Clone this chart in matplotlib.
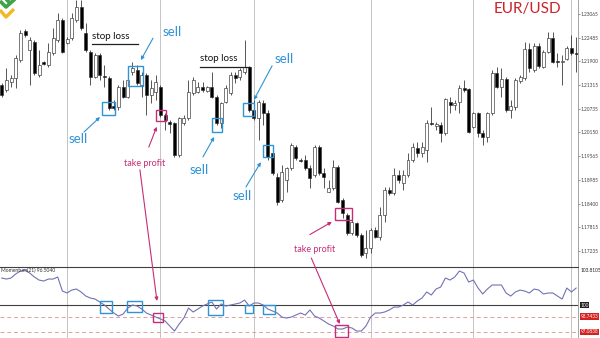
import matplotlib
matplotlib.use('Agg')
import matplotlib.pyplot as plt
from matplotlib.patches import Rectangle, ConnectionPatch
from matplotlib.lines import Line2D
import matplotlib.transforms as mtransforms
import numpy as np

# ---------------- data (EUR/USD candles) ----------------
opens = [1.2132, 1.2120, 1.2139, 1.2149, 1.2193, 1.2265, 1.2218, 1.2238, 1.2156, 1.2188,
         1.2181, 1.2211, 1.2242, 1.2292, 1.2235, 1.2247, 1.2292, 1.2324, 1.2260, 1.2213,
         1.2152, 1.2206, 1.2154, 1.2149, 1.2080, 1.2078, 1.2127, 1.2102, 1.2164, 1.2169,
         1.2132, 1.2156, 1.2107, 1.2115, 1.2127, 1.2058, 1.2041, 1.2038, 1.1960, 1.2038,
         1.2051, 1.2112, 1.2115, 1.2127, 1.2117, 1.2127, 1.2102, 1.2038, 1.2090, 1.2112,
         1.2156, 1.2152, 1.2164, 1.2176, 1.2070, 1.2051, 1.2088, 1.2063, 1.1965, 1.1905,
         1.1849, 1.1898, 1.1928, 1.1979, 1.1947, 1.1947, 1.1928, 1.1910, 1.1979, 1.1915,
         1.1868, 1.1878, 1.1930, 1.1849, 1.1812, 1.1768, 1.1792, 1.1763, 1.1719, 1.1731,
         1.1775, 1.1758, 1.1812, 1.1873, 1.1866, 1.1910, 1.1891, 1.1910, 1.1947, 1.1977,
         1.1965, 1.1972, 1.2038, 1.2031, 1.2033, 1.2014, 1.2090, 1.2083, 1.2090, 1.2124,
         1.2122, 1.2029, 1.2063, 1.2014, 1.2004, 1.2063, 1.2161, 1.2127, 1.2147, 1.2070,
         1.2078, 1.2142, 1.2149, 1.2220, 1.2169, 1.2228, 1.2176, 1.2213, 1.2247, 1.2191,
         1.2188, 1.2196, 1.2223, 1.2211]
highs = [1.2137, 1.2174, 1.2156, 1.2206, 1.2267, 1.2270, 1.2250, 1.2242, 1.2218, 1.2191,
         1.2235, 1.2272, 1.2309, 1.2297, 1.2250, 1.2309, 1.2341, 1.2341, 1.2284, 1.2218,
         1.2211, 1.2211, 1.2181, 1.2154, 1.2095, 1.2132, 1.2144, 1.2156, 1.2188, 1.2181,
         1.2164, 1.2161, 1.2144, 1.2156, 1.2132, 1.2063, 1.2046, 1.2041, 1.2053, 1.2058,
         1.2144, 1.2152, 1.2139, 1.2139, 1.2129, 1.2164, 1.2107, 1.2090, 1.2132, 1.2164,
         1.2164, 1.2174, 1.2242, 1.2179, 1.2095, 1.2095, 1.2095, 1.2070, 1.1972, 1.1915,
         1.1935, 1.1930, 1.1989, 1.1984, 1.1952, 1.1960, 1.1935, 1.1984, 1.1984, 1.1928,
         1.1898, 1.1947, 1.1935, 1.1854, 1.1817, 1.1805, 1.1795, 1.1768, 1.1775, 1.1780,
         1.1782, 1.1832, 1.1881, 1.1881, 1.1928, 1.1923, 1.1923, 1.1965, 1.1989, 1.1992,
         1.1992, 1.2046, 1.2078, 1.2041, 1.2041, 1.2100, 1.2102, 1.2095, 1.2132, 1.2144,
         1.2124, 1.2065, 1.2065, 1.2021, 1.2065, 1.2169, 1.2176, 1.2174, 1.2152, 1.2095,
         1.2149, 1.2156, 1.2238, 1.2235, 1.2235, 1.2235, 1.2218, 1.2262, 1.2262, 1.2211,
         1.2206, 1.2228, 1.2255, 1.2250]
lows = [1.2102, 1.2115, 1.2127, 1.2124, 1.2188, 1.2250, 1.2132, 1.2156, 1.2152, 1.2181,
        1.2176, 1.2206, 1.2238, 1.2211, 1.2233, 1.2242, 1.2287, 1.2267, 1.2213, 1.2132,
        1.2149, 1.2144, 1.2127, 1.2070, 1.2070, 1.2070, 1.2100, 1.2100, 1.2156, 1.2132,
        1.2102, 1.2058, 1.2088, 1.2095, 1.2053, 1.2021, 1.2014, 1.1955, 1.1955, 1.2033,
        1.2046, 1.2107, 1.2112, 1.2115, 1.2115, 1.2100, 1.2033, 1.2026, 1.2088, 1.2107,
        1.2137, 1.2144, 1.2159, 1.2065, 1.2046, 1.1997, 1.2033, 1.1947, 1.1910, 1.1837,
        1.1844, 1.1868, 1.1923, 1.1947, 1.1942, 1.1923, 1.1878, 1.1905, 1.1910, 1.1878,
        1.1868, 1.1873, 1.1841, 1.1805, 1.1763, 1.1763, 1.1758, 1.1709, 1.1706, 1.1719,
        1.1755, 1.1751, 1.1795, 1.1861, 1.1861, 1.1891, 1.1873, 1.1905, 1.1942, 1.1955,
        1.1955, 1.1942, 1.2033, 1.2021, 1.1992, 1.2009, 1.2063, 1.2070, 1.2063, 1.2115,
        1.2014, 1.2026, 1.2004, 1.1984, 1.1992, 1.2058, 1.2124, 1.2102, 1.2065, 1.2051,
        1.2070, 1.2137, 1.2144, 1.2164, 1.2164, 1.2174, 1.2174, 1.2211, 1.2186, 1.2176,
        1.2132, 1.2193, 1.2206, 1.2164]
closes = [1.2107, 1.2144, 1.2149, 1.2198, 1.2260, 1.2255, 1.2242, 1.2161, 1.2181, 1.2183,
          1.2213, 1.2247, 1.2292, 1.2213, 1.2245, 1.2297, 1.2324, 1.2272, 1.2218, 1.2152,
          1.2206, 1.2156, 1.2152, 1.2075, 1.2075, 1.2127, 1.2102, 1.2144, 1.2174, 1.2137,
          1.2156, 1.2107, 1.2124, 1.2139, 1.2058, 1.2046, 1.2036, 1.1960, 1.2051, 1.2051,
          1.2115, 1.2144, 1.2127, 1.2120, 1.2127, 1.2102, 1.2038, 1.2088, 1.2124, 1.2156,
          1.2149, 1.2169, 1.2176, 1.2070, 1.2051, 1.2090, 1.2063, 1.1955, 1.1915, 1.1844,
          1.1918, 1.1928, 1.1984, 1.1952, 1.1945, 1.1928, 1.1903, 1.1979, 1.1915, 1.1905,
          1.1878, 1.1930, 1.1844, 1.1817, 1.1768, 1.1795, 1.1763, 1.1714, 1.1731, 1.1775,
          1.1758, 1.1812, 1.1873, 1.1866, 1.1910, 1.1898, 1.1910, 1.1947, 1.1979, 1.1965,
          1.1979, 1.2038, 1.2036, 1.2036, 1.2014, 1.2097, 1.2083, 1.2088, 1.2124, 1.2120,
          1.2016, 1.2063, 1.2014, 1.2004, 1.2063, 1.2161, 1.2127, 1.2147, 1.2070, 1.2080,
          1.2144, 1.2152, 1.2220, 1.2174, 1.2228, 1.2179, 1.2213, 1.2247, 1.2188, 1.2188,
          1.2191, 1.2223, 1.2211, 1.2208]
momentum = [102.94, 102.83, 102.94, 103.38, 103.70, 103.81, 103.48, 103.05, 102.72, 102.61,
            102.83, 102.83, 103.05, 101.52, 101.31, 101.63, 101.74, 101.42, 100.98, 100.76,
            100.65, 100.33, 100.00, 99.56, 99.13, 98.80, 99.02, 99.67, 100.00, 99.89,
            99.56, 99.13, 98.91, 98.69, 98.48, 98.26, 97.71, 97.17, 97.93, 98.58,
            99.67, 99.24, 99.56, 99.89, 100.11, 100.33, 99.56, 100.11, 99.89, 100.00,
            100.11, 100.22, 100.54, 99.89, 100.22, 100.22, 100.00, 99.56, 99.35, 99.13,
            98.69, 98.58, 98.69, 98.91, 99.13, 98.91, 99.46, 98.80, 98.58, 98.26,
            97.93, 97.71, 97.39, 97.39, 97.60, 97.50, 97.17, 97.17, 97.71, 98.69,
            99.13, 99.13, 99.24, 99.46, 99.78, 99.78, 100.00, 100.33, 100.00, 100.44,
            100.76, 101.42, 101.09, 101.74, 101.96, 102.94, 102.72, 103.05, 103.70, 103.48,
            102.50, 102.72, 101.85, 101.20, 101.74, 102.18, 102.18, 102.18, 101.31, 100.98,
            101.42, 101.63, 101.52, 101.31, 101.74, 101.63, 101.20, 101.31, 101.31, 100.98,
            100.65, 101.85, 101.42, 101.85]
price_ticks = [1.23065, 1.22485, 1.21900, 1.21315, 1.20735, 1.20150,
               1.19565, 1.18985, 1.18400, 1.17815, 1.17235]
mom_top_label = 103.8105
mom_zero = 100.0
mom_levels = [98.7433, 97.0838]
session_breaks = [14, 34, 54, 79, 101, 122]

# ---------------- style ----------------
BLUE = '#2f93d6'
PINK = '#c82c78'
RED = '#cc2229'
GRID = '#c4c4c4'
FONT = ['Lato', 'DejaVu Sans']
TICKFONT = ['Lato', 'DejaVu Sans']
TFS = 3.4

W, H = 600, 338
fig = plt.figure(figsize=(W / 100, H / 100), dpi=100)
fig.patch.set_facecolor('white')
ax = fig.add_axes([0, 71 / H, 578 / W, 267 / H])
ax2 = fig.add_axes([0, 0, 578 / W, 71 / H])

n = len(opens)
idx = np.arange(n)
o = np.array(opens)
c = np.array(closes)
up = c >= o
xlim = (-0.36, 123.4)

# ---------------- price panel ----------------
for b in session_breaks:
    ax.axvline(b, color=GRID, lw=0.7, zorder=0)
    ax2.axvline(b, color=GRID, lw=0.7, zorder=0)

ax.vlines(idx, lows, highs, color='#3a3a3a', lw=0.6, zorder=2)
body_lo = np.minimum(o, c)
body_h = np.maximum(np.abs(c - o), 0.00003)
ax.bar(idx, body_h, bottom=body_lo, width=0.64,
       color=np.where(up, 'white', 'black'), edgecolor='#303030',
       linewidth=0.45, zorder=3)

ax.set_xlim(*xlim)
ax.set_ylim(1.16841, 1.23409)
ax.yaxis.tick_right()
ax.set_yticks(price_ticks)
ax.set_yticklabels([f'{t:.5f}' for t in price_ticks], fontsize=TFS,
                   family=TICKFONT, color='#202020')
ax.tick_params(axis='y', length=1.2, width=0.4, pad=0.6, colors='#404040')
ax.set_xticks([])
for s in ['top', 'left', 'bottom']:
    ax.spines[s].set_visible(False)
ax.spines['right'].set_color('#808080')
ax.spines['right'].set_linewidth(0.5)

def box(a, x0, x1, y0, y1, col, lw=1.0):
    a.add_patch(Rectangle((x0, y0), x1 - x0, y1 - y0, fill=False,
                          edgecolor=col, lw=lw, zorder=5))

def arrow(a, tail, head, col):
    a.annotate('', xy=head, xytext=tail,
               arrowprops=dict(arrowstyle='-|>', color=col, lw=0.8,
                               mutation_scale=5, shrinkA=0, shrinkB=0),
               zorder=6)

# sell boxes on price
box(ax, 21.5, 24.3, 1.2058, 1.2090, BLUE)
box(ax, 27.0, 30.3, 1.2129, 1.2179, BLUE)
box(ax, 45.0, 47.2, 1.2016, 1.2051, BLUE)
box(ax, 51.7, 54.0, 1.2056, 1.2088, BLUE)
box(ax, 56.0, 58.1, 1.1955, 1.1984, BLUE)
# take profit boxes
box(ax, 33.0, 35.2, 1.2043, 1.2070, PINK)
box(ax, 71.4, 75.0, 1.1800, 1.1829, PINK)

# stop loss lines
ax.plot([19.3, 29.2], [1.2233, 1.2233], color='#202020', lw=0.9, zorder=5)
ax.text(23.4, 1.2251, 'stop loss', fontsize=7, family=FONT, color='#101010',
        ha='center', va='center')
ax.plot([42.5, 53.2], [1.2177, 1.2177], color='#202020', lw=0.9, zorder=5)
ax.text(46.5, 1.2196, 'stop loss', fontsize=7, family=FONT, color='#101010',
        ha='center', va='center')

# sell labels + arrows
sell_txt = [(16.3, 1.1999), (36.5, 1.2262), (42.3, 1.1923), (60.5, 1.2196), (51.5, 1.1859)]
sell_arr = [((17.6, 1.2016), (21.05, 1.2053)),
            ((32.4, 1.2247), (29.8, 1.2193)),
            ((43.1, 1.1955), (45.5, 1.2004)),
            ((57.9, 1.2179), (54.0, 1.2095)),
            ((52.3, 1.1881), (55.5, 1.1942))]
for (tx, ty), (tail, head) in zip(sell_txt, sell_arr):
    ax.text(tx, ty, 'sell', fontsize=9.5, family=FONT, color=BLUE,
            ha='center', va='center')
    arrow(ax, tail, head, BLUE)

# take profit labels + arrows
ax.text(30.6, 1.1939, 'take profit', fontsize=6.5, family=FONT, color=PINK,
        ha='center', va='center')
arrow(ax, (31.5, 1.1979), (33.2, 1.2029), PINK)
ax.text(67.0, 1.1726, 'take profit', fontsize=6.5, family=FONT, color=PINK,
        ha='center', va='center')
arrow(ax, (66.0, 1.1764), (70.7, 1.1795), PINK)

ax.text(0.912, 0.968, 'EUR/USD', transform=ax.transAxes, fontsize=11,
        family=FONT, color=RED, ha='center', va='center')

# ---------------- momentum panel ----------------
ax2.plot(idx, momentum, color='#7272b4', lw=0.8, zorder=3)
ax2.axhline(mom_zero, color='#404040', lw=0.8, zorder=2)
for lv in mom_levels:
    ax2.axhline(lv, color='#e0a0a0', lw=0.7, ls=(0, (4, 3)), zorder=2)
ax2.set_xlim(*xlim)
ax2.set_ylim(96.41, 104.14)
ax2.set_xticks([])
ax2.set_yticks([])
for s in ['left', 'bottom']:
    ax2.spines[s].set_visible(False)
ax2.spines['top'].set_color('#404040')
ax2.spines['top'].set_linewidth(0.8)
ax2.spines['right'].set_color('#808080')
ax2.spines['right'].set_linewidth(0.5)

box(ax2, 21.05, 23.6, 99.13, 100.44, BLUE)
box(ax2, 26.8, 30.0, 99.24, 100.44, BLUE)
box(ax2, 44.2, 47.4, 98.91, 100.54, BLUE)
box(ax2, 52.1, 53.8, 99.13, 100.00, BLUE)
box(ax2, 56.0, 58.5, 99.02, 100.00, BLUE)
box(ax2, 32.4, 34.5, 98.15, 99.13, PINK)
box(ax2, 71.4, 74.2, 96.52, 97.82, PINK)

for tail, head in [((29.6, 1.1923), (33.25, 100.44)),
                   ((66.3, 1.1706), (72.4, 97.93))]:
    con = ConnectionPatch(xyA=tail, coordsA=ax.transData, xyB=head,
                          coordsB=ax2.transData, arrowstyle='-|>', color=PINK,
                          lw=0.8, mutation_scale=5, shrinkA=0, shrinkB=0,
                          zorder=7)
    fig.add_artist(con)

trans = mtransforms.blended_transform_factory(ax2.transAxes, ax2.transData)
ax2.text(1.004, mom_top_label, f'{mom_top_label:.4f}', transform=trans,
         fontsize=TFS, family=TICKFONT, color='#202020', va='center', ha='left',
         clip_on=False)
ax2.text(1.004, mom_zero, '100', transform=trans, fontsize=TFS, family=TICKFONT,
         color='white', va='center', ha='left', clip_on=False,
         bbox=dict(boxstyle='square,pad=0.15', fc='#202020', ec='none'))
for lv in mom_levels:
    ax2.text(1.004, lv, f'{lv:.4f}', transform=trans, fontsize=TFS,
             family=TICKFONT, color='white', va='center', ha='left', clip_on=False,
             bbox=dict(boxstyle='square,pad=0.15', fc='#d42020', ec='none'))

fig.text(1 / W, 1 - 270 / H, 'Momentum(21) 96.5040', fontsize=3.6,
         family=FONT, color='#303030', ha='left', va='center')

# ---------------- logo (top-left) ----------------
ov = fig.add_axes([0, 0, 1, 1], zorder=10)
ov.set_xlim(0, W)
ov.set_ylim(H, 0)
ov.axis('off')
ov.add_line(Line2D([0, 6, 15], [1, 7, -1], color='#3fa447', lw=2.6,
                   solid_capstyle='butt'))
ov.add_line(Line2D([6, 10], [-1, 3], color='#3fa447', lw=2.6,
                   solid_capstyle='butt'))
ov.add_line(Line2D([0, 6, 14], [10, 17, 9], color='#f2b824', lw=2.4,
                   solid_capstyle='butt'))

fig.savefig('out.png', dpi=100, facecolor='white')
